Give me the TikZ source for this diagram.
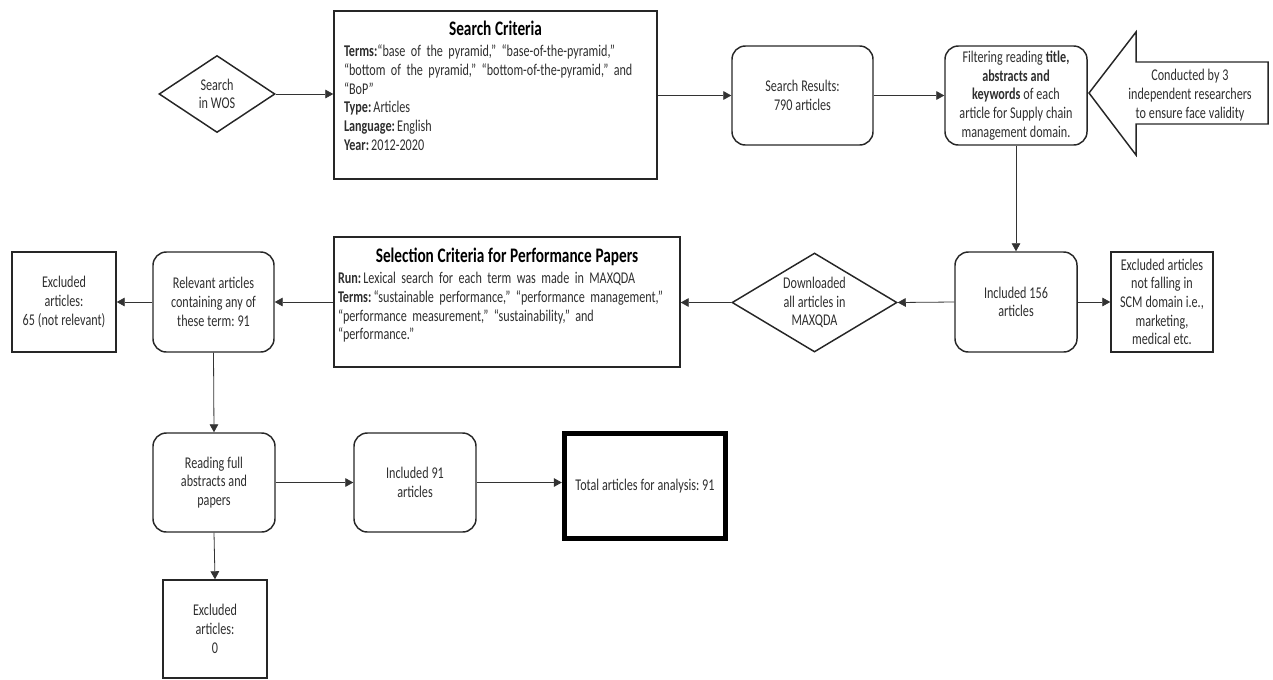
\documentclass[tikz,border=0pt]{standalone}
\usepackage{fontspec}
\setmainfont{Carlito}[FakeStretch=0.74]
\usetikzlibrary{positioning,arrows.meta,shapes.geometric}
\newcommand{\narrowspaces}[1]{\spaceskip=#1 plus 0.8pt minus 0.4pt\relax}
\tikzset{
  body/.style={font=\fontsize{12.3}{14}\selectfont\frenchspacing\narrowspaces{2.2pt},
    text=black!82},
  stage/.style={body, draw=black!85, line width=1.1pt, rounded corners=10pt,
    align=center, inner sep=2pt},
  outbox/.style={body, draw=black!85, line width=1.1pt, align=center, inner sep=2pt},
  choice/.style={body, diamond, draw=black!85, line width=1.1pt, aspect=1.6,
    inner sep=0pt, align=center},
  critbox/.style={body, draw=black!85, line width=1.1pt, align=left, inner ysep=3pt},
  finalbox/.style={outbox, line width=3.8pt, draw=black},
  flow/.style={-{Triangle[length=6pt,width=6.5pt]}, line width=0.6pt, draw=black!80},
  notearrow/.style={draw=black!85, line width=1.1pt, line join=miter},
}
\newcommand{\crittitle}[1]{{\centering\fontsize{15.5}{18}\selectfont\bfseries\narrowspaces{2.8pt}%
  \color{black}#1\par}\vspace{2pt}}
\newcommand{\critkey}[1]{\textbf{#1}\hspace{1.6pt}}

\begin{document}
\begin{tikzpicture}[x=0.75pt,y=-0.75pt]
\useasboundingbox (0,0) rectangle (1273,679);
% first row: search
\node[choice, minimum width=87pt, minimum height=57.75pt] (wos) at (217,94) {Search\\in WOS};
\node[critbox, text width=227.25pt, inner xsep=7.5pt, minimum height=126pt] (crit) at (495.5,95)
  {\crittitle{Search Criteria}\textbf{Terms:}“base of the pyramid,” “base-of-the-pyramid,”\\
   “bottom of the pyramid,” “bottom-of-the-pyramid,” and\\
   “BoP”\\
   \critkey{Type:}Articles\\
   \critkey{Language:}English\\
   \critkey{Year:}2012-2020\par\vspace{14pt}};
\node[stage, minimum width=105.75pt, minimum height=74.25pt] (results) at (802.5,95.5) {Search Results:\\790 articles};
\node[stage, minimum width=106.5pt, minimum height=74.25pt] (filter) at (1016,95.5)
  {Filtering reading \textbf{title,}\\ \textbf{abstracts and}\\ \textbf{keywords} of each\\ article for Supply chain\\ management domain.};
\node[body, align=center] (check) at (1190,95) {Conducted by 3\\independent researchers\\to ensure face validity};
\draw[notearrow] (1089,93) -- (1136,32) -- (1136,62) -- (1268,62) -- (1268,124)
  -- (1136,124) -- (1136,155) -- cycle;
% second row: selection
\node[stage, minimum width=91.5pt, minimum height=75pt] (incl156) at (1016,302) {Included 156\\articles};
\node[outbox, minimum width=76.5pt, minimum height=75pt] (exclscm) at (1162,302)
  {Excluded articles\\not falling in\\SCM domain i.e.,\\marketing,\\medical etc.};
\node[choice, minimum width=123.75pt, minimum height=74.25pt] (maxqda) at (814.5,302.5) {Downloaded\\all articles in\\MAXQDA};
\node[critbox, text width=253.5pt, inner xsep=3pt, minimum height=97.5pt] (sel) at (507,302)
  {\crittitle{Selection Criteria for Performance Papers}\critkey{Run:}Lexical search for each term was made in MAXQDA\\
   \critkey{Terms:}“sustainable performance,” “performance management,”\\
   “performance measurement,” “sustainability,” and\\
   “performance.”\par\vspace{10pt}};
\node[stage, minimum width=90.75pt, minimum height=75pt] (relevant) at (213.5,302) {Relevant articles\\containing any of\\these term: 91};
\node[outbox, minimum width=78pt, minimum height=75pt] (excl65) at (64,302) {Excluded\\articles:\\65 (not relevant)};
% third row: full reading
\node[stage, minimum width=91.5pt, minimum height=74.25pt] (reading) at (214,482.5) {Reading full\\abstracts and\\papers};
\node[stage, minimum width=91.5pt, minimum height=74.25pt] (incl91) at (415,482.5) {Included 91\\articles};
\node[finalbox, minimum width=121pt, minimum height=79pt] (total) at (645,486) {Total articles for analysis: 91};
\node[outbox, minimum width=78pt, minimum height=73.5pt] (excl0) at (215,629) {Excluded\\articles:\\0};
\draw[flow] (wos.east) -- (wos.east -| crit.west);
\draw[flow] (crit.east |- results.west) -- (results.west);
\draw[flow] (results.east) -- (filter.west);
\draw[flow] (filter.south) -- (incl156.north);
\draw[flow] (incl156.east) -- (exclscm.west);
\draw[flow] (incl156.west) -- (maxqda.east);
\draw[flow] (maxqda.west) -- (maxqda.west -| sel.east);
\draw[flow] (sel.west |- relevant.east) -- (relevant.east);
\draw[flow] (relevant.west) -- (excl65.east);
\draw[flow] (relevant.south) -- (reading.north);
\draw[flow] (reading.east) -- (incl91.west);
\draw[flow] (incl91.east) -- (incl91.east -| total.west);
\draw[flow] (reading.south) -- (excl0.north);
\end{tikzpicture}
\end{document}
